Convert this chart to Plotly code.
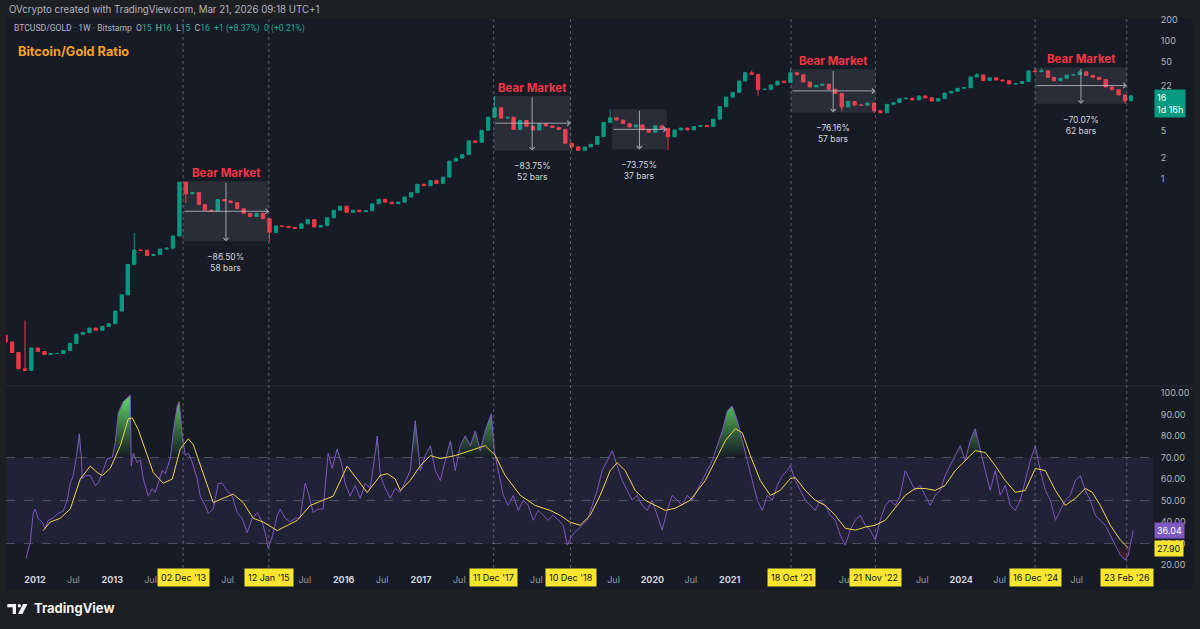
import numpy as np
import pandas as pd
import plotly.graph_objects as go

# ---------------- DATA ----------------
# Monthly BTCUSD/GOLD candles (close of each month), first month Aug 2011
candle_start = "2011-08-01"
first_open = 0.0055
closes = [
    0.0044, 0.0031, 0.0018, 0.0017, 0.0036, 0.0032, 0.0029, 0.0030, 0.0030, 0.0033,
    0.0042, 0.0057, 0.0060, 0.0070, 0.0065, 0.0074, 0.0081, 0.0123, 0.0211, 0.058,
    0.094, 0.093, 0.0785, 0.081, 0.097, 0.100, 0.150, 0.90, 0.61, 0.64,
    0.426, 0.354, 0.344, 0.504, 0.482, 0.456, 0.373, 0.319, 0.288, 0.320,
    0.267, 0.169, 0.21, 0.206, 0.20, 0.193, 0.225, 0.259, 0.203, 0.212,
    0.275, 0.354, 0.405, 0.329, 0.353, 0.337, 0.347, 0.437, 0.509, 0.463,
    0.439, 0.463, 0.548, 0.633, 0.84, 0.80, 0.95, 0.865, 1.065, 1.81,
    2.0, 2.26, 3.56, 3.39, 5.07, 7.84, 10.7, 7.58, 7.81, 5.2,
    7.03, 5.77, 5.1, 6.3, 5.85, 5.56, 5.2, 3.29, 2.92, 2.6,
    2.91, 3.17, 4.13, 6.57, 7.67, 7.13, 6.32, 5.64, 6.05, 5.16,
    4.75, 5.88, 5.39, 4.08, 5.11, 5.46, 5.13, 5.75, 5.92, 5.72,
    7.34, 11.1, 15.25, 17.9, 26.1, 34.4, 32.6, 19.6, 19.8, 22.9,
    26.0, 24.9, 34.4, 32.1, 25.3, 21.4, 22.6, 23.5, 19.9, 17.3,
    11.0, 13.2, 11.7, 11.7, 12.55, 9.7, 9.07, 12.0, 12.7, 14.45,
    14.7, 13.9, 15.9, 14.9, 13.4, 14.6, 17.5, 18.5, 20.5, 20.9,
    29.9, 32.0, 26.5, 29.0, 27.0, 26.4, 23.6, 24.0, 25.6, 36.5,
    35.6, 36.6, 29.5, 26.4, 28.6, 31.8, 32.4, 35.2, 31.4, 29.5,
    27.4, 21.4, 19.5, 16.4, 13.5, 16.0,
]
high_months = ["2011-11", "2013-04", "2013-12", "2017-12", "2019-06", "2021-03",
               "2021-04", "2021-10", "2024-03", "2024-12", "2025-01", "2025-07", "2025-08"]
high_vals = [0.009, 0.166, 0.93, 15.9, 10.2, 35.5, 37.2, 38.5, 34.0, 41.0, 40.0, 37.0, 37.0]
low_months = ["2013-12", "2015-01", "2018-12", "2020-03", "2021-05", "2022-06", "2022-11", "2026-02"]
low_vals = [0.45, 0.1256, 2.58, 2.6, 16.0, 9.7, 9.0, 12.27]

# RSI (weekly) vertices, time in decimal years
rsi_t = [
    2011.886, 2011.938, 2011.977, 2012.002, 2012.041, 2012.093, 2012.132, 2012.171, 2012.236, 2012.301,
    2012.365, 2012.417, 2012.456, 2012.495, 2012.534, 2012.547, 2012.573, 2012.599, 2012.612, 2012.650,
    2012.715, 2012.780, 2012.819, 2012.871, 2012.935, 2013.000, 2013.039, 2013.078, 2013.143, 2013.233,
    2013.246, 2013.272, 2013.324, 2013.363, 2013.402, 2013.467, 2013.518, 2013.557, 2013.596, 2013.648,
    2013.687, 2013.752, 2013.790, 2013.842, 2013.868, 2013.907, 2013.946, 2013.985, 2014.037, 2014.102,
    2014.140, 2014.205, 2014.244, 2014.309, 2014.374, 2014.425, 2014.490, 2014.555, 2014.620, 2014.684,
    2014.749, 2014.814, 2014.879, 2014.944, 2014.982, 2015.021, 2015.073, 2015.138, 2015.177, 2015.242,
    2015.307, 2015.371, 2015.436, 2015.501, 2015.540, 2015.605, 2015.669, 2015.734, 2015.799, 2015.851,
    2015.916, 2015.980, 2016.019, 2016.084, 2016.149, 2016.214, 2016.278, 2016.343, 2016.408, 2016.434,
    2016.473, 2016.538, 2016.602, 2016.667,
    2016.732, 2016.797, 2016.861, 2016.926, 2016.991, 2017.056, 2017.121, 2017.185, 2017.250, 2017.315,
    2017.380, 2017.444, 2017.509, 2017.574, 2017.639, 2017.704, 2017.768, 2017.833, 2017.911, 2017.950,
    2018.002, 2018.066, 2018.131, 2018.196, 2018.261, 2018.326, 2018.390, 2018.455, 2018.520, 2018.585,
    2018.649, 2018.714, 2018.779, 2018.844, 2018.896, 2018.960, 2019.025, 2019.090, 2019.155, 2019.220,
    2019.284, 2019.349, 2019.414, 2019.479, 2019.543, 2019.608, 2019.673, 2019.738, 2019.803, 2019.867,
    2019.932, 2019.997, 2020.062, 2020.127, 2020.191, 2020.256, 2020.321, 2020.386, 2020.450, 2020.515,
    2020.580, 2020.645, 2020.710, 2020.774, 2020.839, 2020.904, 2020.969, 2021.033, 2021.098, 2021.163,
    2021.228, 2021.293, 2021.357, 2021.422, 2021.487, 2021.552, 2021.617, 2021.681, 2021.746, 2021.785,
    2021.850, 2021.915, 2021.979, 2022.044, 2022.109, 2022.174, 2022.239, 2022.303, 2022.368, 2022.433,
    2022.498, 2022.562, 2022.627, 2022.692, 2022.757, 2022.822, 2022.886, 2022.951, 2023.016, 2023.081,
    2023.146, 2023.210, 2023.275, 2023.340, 2023.405, 2023.469, 2023.534, 2023.599, 2023.664, 2023.729,
    2023.793, 2023.858, 2023.923, 2023.988, 2024.053, 2024.117, 2024.182, 2024.247, 2024.312, 2024.376,
    2024.441, 2024.506, 2024.571, 2024.636, 2024.700, 2024.765, 2024.830, 2024.895, 2024.959, 2025.024,
    2025.089, 2025.154, 2025.219, 2025.283, 2025.348, 2025.413, 2025.478, 2025.543, 2025.607, 2025.672,
    2025.737, 2025.802, 2025.866, 2025.931, 2025.996, 2026.061, 2026.126, 2026.165, 2026.203, 2026.229,
]
rsi_v = [
    23, 30.5, 44, 46, 41.7, 40, 37, 40.7, 42, 44,
    45, 50, 58, 61.6, 70, 74, 81, 71, 60, 61.6,
    61.6, 57, 58, 63, 69.4, 70, 77, 90.7, 96, 99,
    66, 72, 67.6, 69, 60, 52, 55.6, 53.7, 58, 64,
    62.5, 69.4, 81.5, 94, 96, 80, 71, 72, 67.6, 60,
    52, 47.7, 44, 46, 58, 58, 54.6, 52, 44.4, 41.7,
    35, 41.7, 44.4, 40, 35, 27.8, 33, 43, 46, 41.7,
    40, 41.7, 42, 58, 53.7, 44.4, 46, 46, 72, 65,
    74, 66, 58, 52, 57, 51, 58, 55.6, 72, 80,
    61.6, 55.6, 51, 55.6,
    53.8, 59.3, 63.9, 87.1, 63.9, 70.9, 75.5, 63.9, 59.3, 68.6,
    77.8, 63.9, 75.5, 80.1, 75.5, 82.4, 73.2, 82.4, 90.3, 73.2,
    63.9, 52.4, 47.7, 52.4, 45.4, 50.1, 47.7, 40.8, 45.4, 43.1,
    40.8, 43.1, 40.8, 38.5, 29.2, 33.9, 36.2, 38.5, 40.8, 47.7,
    54.7, 63.9, 68.6, 73.2, 66.2, 59.3, 54.7, 50.1, 52.4, 47.7,
    45.4, 50.1, 43.1, 36.2, 45.4, 52.4, 50.1, 47.7, 52.4, 50.1,
    54.7, 59.3, 63.9, 68.6, 75.5, 82.4, 91.7, 94, 87.1, 77.8,
    68.6, 59.3, 50.1, 45.4, 52.4, 50.1, 57, 61.6, 63.9, 66.2,
    59.3, 54.7, 50.1, 47.7, 45.4, 50.1, 47.7, 43.1, 40.8, 33.9,
    29.2, 36.2, 40.8, 43.1, 38.5, 36.2, 31.6, 40.8, 47.7, 50.1,
    47.7, 52.4, 63.9, 59.3, 54.7, 57, 52.4, 47.7, 52.4, 54.7,
    61.6, 66.2, 70.9, 75.5, 68.6, 77.8, 83.4, 73.2, 63.9, 54.7,
    63.9, 52.4, 57, 47.7, 45.4, 50.1, 59.3, 68.6, 75.5, 63.9,
    54.7, 50.1, 40.8, 45.4, 50.1, 52.4, 59.3, 61.6, 54.7, 50.1,
    43.1, 40.8, 38.5, 33.9, 29.2, 24.6, 22.3, 24.6, 31.6, 36.04,
]
# RSI moving average vertices
sma_t = [
    2012.106, 2012.197, 2012.326, 2012.456, 2012.586, 2012.715, 2012.806, 2012.871, 2012.974, 2013.104,
    2013.208, 2013.259, 2013.337, 2013.454, 2013.531, 2013.661, 2013.778, 2013.881, 2013.985, 2014.050,
    2014.179, 2014.309, 2014.438, 2014.568, 2014.698, 2014.827, 2014.957, 2015.138, 2015.268, 2015.397,
    2015.566, 2015.734, 2015.864, 2016.045, 2016.175, 2016.304, 2016.473, 2016.563, 2016.667, 2016.732,
    2016.861, 2016.991, 2017.121, 2017.250, 2017.444, 2017.639, 2017.833, 2017.963, 2018.092, 2018.287,
    2018.481, 2018.675, 2018.805, 2018.934, 2019.064, 2019.194, 2019.323, 2019.453, 2019.543, 2019.647,
    2019.777, 2019.906, 2020.036, 2020.165, 2020.295, 2020.489, 2020.684, 2020.813, 2020.943, 2021.072,
    2021.163, 2021.267, 2021.396, 2021.526, 2021.655, 2021.785, 2021.850, 2021.979, 2022.109, 2022.239,
    2022.368, 2022.498, 2022.627, 2022.757, 2022.886, 2023.016, 2023.146, 2023.275, 2023.405, 2023.534,
    2023.664, 2023.793, 2023.923, 2024.053, 2024.182, 2024.312, 2024.441, 2024.571, 2024.700, 2024.830,
    2024.959, 2025.089, 2025.219, 2025.348, 2025.478, 2025.607, 2025.698, 2025.802, 2025.931, 2026.061,
    2026.165,
]
sma_v = [
    36, 40, 41.7, 46, 60, 66, 63, 61.6, 65, 75.5,
    88, 88.4, 83, 71, 63, 58, 60, 74, 78.7, 76,
    63, 49, 51, 53, 49, 41.7, 40, 36, 38.4, 40.7,
    47.7, 50, 52, 66, 60, 53.7, 61.6, 62.5, 60, 54.7,
    59.3, 66.2, 70.9, 69.5, 70.9, 73.2, 75.5, 70.9, 61.6, 52.4,
    47.7, 45.4, 43.1, 39.9, 38.5, 43.1, 52.4, 63.9, 67.6, 63.9,
    54.7, 50.1, 47.7, 45.4, 46.4, 50.1, 59.3, 68.6, 77.8, 83.4,
    81.5, 70.9, 59.3, 52.4, 54.7, 60.2, 60.7, 54.7, 50.1, 47.7,
    43.1, 37.1, 36.2, 37.6, 38.5, 40.8, 46.4, 52.4, 55.6, 55.6,
    54.7, 57, 63.9, 68.6, 73.2, 72.3, 66.2, 59.3, 53.8, 54.7,
    64.9, 63.9, 54.7, 47.7, 51, 55.6, 53.8, 47.7, 38.5, 31.6,
    27.9,
]

# Price-range measurements
meas_start = ["2013-12-02", "2017-12-11", "2019-06-24", "2021-10-18", "2024-12-16"]
meas_end = ["2015-01-12", "2018-12-10", "2020-03-09", "2022-11-21", "2026-02-23"]
meas_high = [0.93, 15.9, 10.2, 38.5, 41.0]
meas_pct = [-86.50, -83.75, -73.75, -76.16, -70.07]
meas_bars = [58, 52, 37, 57, 62]
meas_bear = [True, True, False, True, True]

marker_dates = ["2013-12-02", "2015-01-12", "2017-12-11", "2018-12-10",
                "2021-10-18", "2022-11-21", "2024-12-16", "2026-02-23"]

price_ticks = [1, 2, 5, 22, 50, 100, 200]
rsi_ticks = [20, 30, 40, 50, 60, 70, 80, 90, 100]
year_ticks = [2012, 2013, 2016, 2017, 2020, 2021, 2024]
jul_ticks = [2012, 2013, 2014, 2015, 2016, 2017, 2018, 2019, 2020, 2022, 2023, 2024, 2025]
last_price = 16
countdown = "1d 16h"

# ---------------- STYLE ----------------
OUTER = "#1e1f22"
PANEL = "#171b26"
UP = "#089981"
DN = "#f23645"
PURPLE = "#7e57c2"
YELLOW = "#f2d54b"
LABEL_YEL = "#f7e52f"
FONT = "Inter, Roboto, sans-serif"
FONT2 = "Roboto, Inter, sans-serif"
W, H = 1200, 629
ML, MR, MT, MB = 6, 47, 18, 61
PW, PH = W - ML - MR, H - MT - MB


def px(xp):
    return (xp - ML) / PW


def py(yp):
    return (H - MB - yp) / PH


def dec_year(t):
    y = int(np.floor(t))
    a = pd.Timestamp(year=y, month=1, day=1)
    b = pd.Timestamp(year=y + 1, month=1, day=1)
    return a + (b - a) * (t - y)


# ---------------- BUILD ----------------
months = pd.date_range(candle_start, periods=len(closes), freq="MS")
mkey = list(months.strftime("%Y-%m"))
cx = months + pd.Timedelta(days=14)
opens = [first_open] + closes[:-1]
highs = [max(o, c) for o, c in zip(opens, closes)]
lows = [min(o, c) for o, c in zip(opens, closes)]
for m, v in zip(high_months, high_vals):
    i = mkey.index(m)
    highs[i] = max(highs[i], v)
for m, v in zip(low_months, low_vals):
    i = mkey.index(m)
    lows[i] = min(lows[i], v)

rsi_x = [dec_year(t) for t in rsi_t]
sma_x = [dec_year(t) for t in sma_t]
rsi_arr = np.array(rsi_v, dtype=float)

fig = go.Figure()

# measurement boxes (behind candles)
for s, e, h, p in zip(meas_start, meas_end, meas_high, meas_pct):
    lo = h * (1 + p / 100.0)
    fig.add_trace(go.Scatter(x=[s, e, e, s, s], y=[h, h, lo, lo, h], mode="lines",
                             fill="toself", fillcolor="rgba(150,156,172,0.14)",
                             line=dict(width=0), xaxis="x", yaxis="y",
                             hoverinfo="skip", showlegend=False))

fig.add_trace(go.Candlestick(
    x=cx, open=opens, high=highs, low=lows, close=closes, xaxis="x", yaxis="y",
    increasing=dict(line=dict(color=UP, width=1), fillcolor=UP),
    decreasing=dict(line=dict(color=DN, width=1), fillcolor=DN),
    whiskerwidth=0, showlegend=False, hoverinfo="skip"))

# RSI overbought gradient fill
fig.add_trace(go.Scatter(x=rsi_x, y=[70] * len(rsi_x), mode="lines", line=dict(width=0),
                         xaxis="x", yaxis="y2", hoverinfo="skip", showlegend=False))
fig.add_trace(go.Scatter(x=rsi_x, y=np.maximum(rsi_arr, 70), mode="lines", line=dict(width=0),
                         fill="tonexty",
                         fillgradient=dict(type="vertical",
                                           colorscale=[[0, "rgba(76,175,80,0)"], [1, "rgba(90,200,95,1)"]],
                                           start=70, stop=96),
                         xaxis="x", yaxis="y2", hoverinfo="skip", showlegend=False))
# RSI oversold gradient fill
fig.add_trace(go.Scatter(x=rsi_x, y=[30] * len(rsi_x), mode="lines", line=dict(width=0),
                         xaxis="x", yaxis="y2", hoverinfo="skip", showlegend=False))
fig.add_trace(go.Scatter(x=rsi_x, y=np.minimum(rsi_arr, 30), mode="lines", line=dict(width=0),
                         fill="tonexty",
                         fillgradient=dict(type="vertical",
                                           colorscale=[[0, "rgba(242,54,69,1)"], [1, "rgba(242,54,69,0)"]],
                                           start=0, stop=30),
                         xaxis="x", yaxis="y2", hoverinfo="skip", showlegend=False))

fig.add_trace(go.Scatter(x=rsi_x, y=rsi_v, mode="lines", line=dict(color=PURPLE, width=1),
                         xaxis="x", yaxis="y2", hoverinfo="skip", showlegend=False))
fig.add_trace(go.Scatter(x=sma_x, y=sma_v, mode="lines", line=dict(color=YELLOW, width=1),
                         xaxis="x", yaxis="y2", hoverinfo="skip", showlegend=False))

# ---------------- SHAPES ----------------
shapes = []
shapes.append(dict(type="rect", xref="paper", yref="paper", x0=px(6), x1=px(1193),
                   y0=py(590), y1=py(18), fillcolor=PANEL, line=dict(width=0), layer="below"))
shapes.append(dict(type="rect", xref="paper", yref="y2", x0=0, x1=1, y0=30, y1=70,
                   fillcolor="rgba(126,87,194,0.11)", line=dict(width=0), layer="below"))
for lv in (70, 50, 30):
    shapes.append(dict(type="line", xref="paper", yref="y2", x0=0, x1=1, y0=lv, y1=lv,
                       line=dict(color="rgba(120,123,134,0.55)", width=1, dash="dash"), layer="below"))
shapes.append(dict(type="line", xref="paper", yref="paper", x0=px(6), x1=px(1193),
                   y0=py(386), y1=py(386), line=dict(color="#2a2e39", width=1)))
for d in marker_dates:
    shapes.append(dict(type="line", xref="x", yref="paper", x0=d, x1=d, y0=0, y1=1,
                       line=dict(color="rgba(140,143,153,0.6)", width=1, dash="dot")))
# TradingView logo mark
shapes.append(dict(type="rect", xref="paper", yref="paper", x0=px(7.3), x1=px(16),
                   y0=py(607.3), y1=py(604), fillcolor="#f0f0f0", line=dict(width=0)))
shapes.append(dict(type="rect", xref="paper", yref="paper", x0=px(12.7), x1=px(16),
                   y0=py(614), y1=py(604), fillcolor="#f0f0f0", line=dict(width=0)))
shapes.append(dict(type="circle", xref="paper", yref="paper", x0=px(17.6), x1=px(21),
                   y0=py(607.4), y1=py(604), fillcolor="#f0f0f0", line=dict(width=0)))
shapes.append(dict(type="path", xref="paper", yref="paper",
                   path=f"M {px(23)},{py(604)} L {px(27.5)},{py(604)} L {px(22.5)},{py(614)} L {px(18)},{py(614)} Z",
                   fillcolor="#f0f0f0", line=dict(width=0)))

# ---------------- ANNOTATIONS ----------------
ann = []
G = "#22ab94"
ann.append(dict(xref="paper", yref="paper", x=px(7), y=py(10), xanchor="left", yanchor="middle",
                showarrow=False, font=dict(size=9.7, color="#b2b5be", family=FONT),
                text="OVcrypto created with TradingView.com, Mar 21, 2026 09:18 UTC+1"))
hdr = (f"BTCUSD/GOLD · 1W · Bitstamp&nbsp; O<span style='color:{G}'>15</span>&nbsp; "
       f"H<span style='color:{G}'>16</span>&nbsp; L<span style='color:{G}'>15</span>&nbsp; "
       f"C<span style='color:{G}'>16</span>&nbsp; <span style='color:{G}'>+1 (+8.37%)</span>&nbsp; "
       f"<span style='color:{G}'>0 (+0.21%)</span>")
ann.append(dict(xref="paper", yref="paper", x=px(12), y=py(28), xanchor="left", yanchor="middle",
                showarrow=False, font=dict(size=8.6, color="#b2b5be", family=FONT2), text=hdr))
ann.append(dict(xref="paper", yref="paper", x=px(16), y=py(51), xanchor="left", yanchor="middle",
                showarrow=False, font=dict(size=12.7, color="#f5a11c", family=FONT),
                text="<b>Bitcoin/Gold Ratio</b>"))

for s, e, h, p, b, bear in zip(meas_start, meas_end, meas_high, meas_pct, meas_bars, meas_bear):
    s_ts, e_ts = pd.Timestamp(s), pd.Timestamp(e)
    mid = s_ts + (e_ts - s_ts) / 2
    lo = h * (1 + p / 100.0)
    lh, ll = np.log10(h), np.log10(lo)
    lm = (lh + ll) / 2
    if bear:
        ann.append(dict(xref="x", yref="y", x=mid, y=lh, yanchor="bottom", yshift=-1,
                        showarrow=False, font=dict(size=11.5, color=DN, family=FONT),
                        text="<b>Bear Market</b>"))
    ann.append(dict(xref="x", yref="y", x=mid, y=ll, yanchor="top", yshift=-9,
                    showarrow=False, font=dict(size=8.5, color="#d1d4dc", family=FONT),
                    text=f"\u2212{abs(p):.2f}%<br>{b} bars"))
    ann.append(dict(xref="x", yref="y", x=e_ts, y=lm, axref="x", ayref="y", ax=s_ts, ay=lm,
                    showarrow=True, text="", arrowhead=4, arrowsize=1, arrowwidth=1,
                    arrowcolor="rgba(200,203,212,0.75)", standoff=0))
    ann.append(dict(xref="x", yref="y", x=mid, y=ll, axref="x", ayref="y", ax=mid, ay=lh,
                    showarrow=True, text="", arrowhead=4, arrowsize=1, arrowwidth=1,
                    arrowcolor="rgba(200,203,212,0.75)", standoff=0))

for d in marker_dates:
    ts = pd.Timestamp(d)
    ann.append(dict(xref="x", yref="paper", x=ts, y=py(578), yanchor="middle", showarrow=False,
                    text=ts.strftime("%d %b '%y"), bgcolor=LABEL_YEL, borderpad=3,
                    font=dict(size=9, color="#131722", family=FONT)))

ann.append(dict(xref="paper", yref="y", x=1, y=np.log10(last_price), xanchor="left", yanchor="top",
                xshift=1, yshift=7, showarrow=False, align="left", bgcolor=UP, borderpad=2,
                font=dict(size=9, color="#ffffff", family=FONT),
                text=f"{last_price}<br>{countdown}"))
ann.append(dict(xref="paper", yref="y2", x=1, y=rsi_v[-1], xanchor="left", yanchor="middle",
                xshift=1, showarrow=False, bgcolor=PURPLE, borderpad=2,
                font=dict(size=9, color="#ffffff", family=FONT), text=f"{rsi_v[-1]:.2f}"))
ann.append(dict(xref="paper", yref="y2", x=1, y=sma_v[-1], xanchor="left", yanchor="middle",
                xshift=1, showarrow=False, bgcolor=LABEL_YEL, borderpad=2,
                font=dict(size=9, color="#131722", family=FONT), text=f"{sma_v[-1]:.2f}"))

ann.append(dict(xref="paper", yref="paper", x=px(32), y=py(608), xanchor="left", yanchor="middle",
                showarrow=False, font=dict(size=13, color="#f0f0f0", family=FONT),
                text="<b>TradingView</b>"))

# ---------------- AXES ----------------
xt = [(f"{yv}-01-01", f"<b>{yv}</b>") for yv in year_ticks]
xt += [(f"{yv}-07-01", "<span style='color:#9598a1'>Jul</span>") for yv in jul_ticks]
xt.sort()
xt_vals = [a for a, _ in xt]
xt_text = [b for _, b in xt]

fig.update_layout(
    width=W, height=H, margin=dict(l=ML, r=MR, t=MT, b=MB),
    paper_bgcolor=OUTER, plot_bgcolor="rgba(0,0,0,0)", showlegend=False, hovermode=False,
    font=dict(family=FONT, size=9, color="#b2b5be"), boxgap=0.2,
    xaxis=dict(type="date", range=["2011-08-17", "2026-06-27"], anchor="y2", domain=[0, 1],
               showgrid=False, zeroline=False, showline=False, rangeslider=dict(visible=False),
               tickvals=xt_vals, ticktext=xt_text, tickangle=0, ticks="outside", ticklen=3,
               tickcolor="rgba(0,0,0,0)", tickfont=dict(size=9, color="#d1d4dc", family=FONT)),
    yaxis=dict(type="log", domain=[py(386), 1], range=[-2.993, 2.328], side="right",
               showgrid=False, zeroline=False, showline=False, tickvals=price_ticks,
               ticktext=[str(v) for v in price_ticks], ticks="outside", ticklen=5,
               tickcolor="rgba(0,0,0,0)", tickfont=dict(size=9, color="#b2b5be", family=FONT)),
    yaxis2=dict(domain=[0, py(387)], range=[18.6, 102.8], side="right", anchor="x",
                showgrid=False, zeroline=False, showline=False, tickvals=rsi_ticks,
                ticktext=[f"{v:.2f}" for v in rsi_ticks], ticks="outside", ticklen=5,
                tickcolor="rgba(0,0,0,0)", tickfont=dict(size=9, color="#b2b5be", family=FONT)),
    shapes=shapes, annotations=ann,
)

fig.write_html("out.html", config={"displayModeBar": False},
               post_script="document.body.style.margin='0';document.body.style.overflow='hidden';")
